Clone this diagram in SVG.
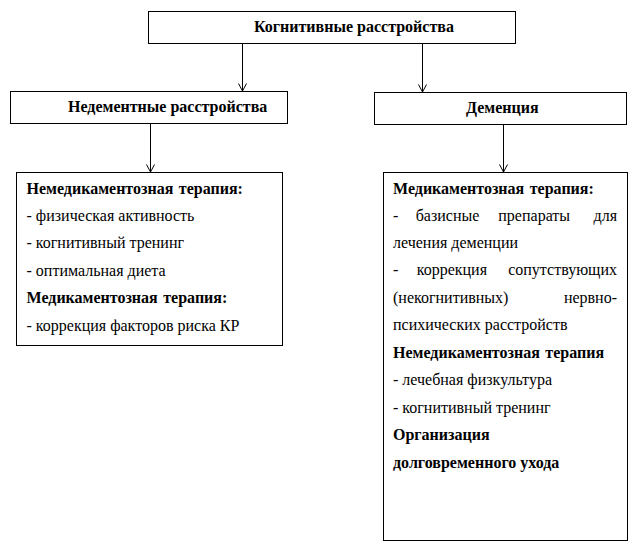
<svg xmlns="http://www.w3.org/2000/svg" width="634" height="547" viewBox="0 0 634 547">
<style>
.box{fill:#fff;stroke:#000;stroke-width:1}
text{font-family:'Liberation Serif','Times New Roman',serif;font-size:16px;fill:#000}
.b{font-weight:bold}
.c{stroke:#000;stroke-width:1;fill:none}
</style>
<rect width="634" height="547" fill="#fff"/>
<g id="connectors">
<line class="c" x1="242.5" y1="43.5" x2="242.5" y2="91.5"/>
<polyline class="c" points="238.5,83.5 242.5,91 246.5,83.5"/>
<line class="c" x1="422.5" y1="43.5" x2="422.5" y2="92.5"/>
<polyline class="c" points="418.5,84.5 422.5,92 426.5,84.5"/>
<line class="c" x1="150.5" y1="123.5" x2="150.5" y2="172.5"/>
<polyline class="c" points="146.5,164.5 150.5,172 154.5,164.5"/>
<line class="c" x1="503.5" y1="124.5" x2="503.5" y2="172.5"/>
<polyline class="c" points="499.5,164.5 503.5,172 507.5,164.5"/>
</g>
<g id="n-root">
<rect class="box" x="148.5" y="11.5" width="367" height="32"/>
<text class="b" x="254" y="32">Когнитивные расстройства</text>
</g>
<g id="n-nondementia">
<rect class="box" x="10.5" y="91.5" width="277" height="32"/>
<text class="b" x="68" y="112">Недементные расстройства</text>
</g>
<g id="n-dementia">
<rect class="box" x="374.5" y="92.5" width="252" height="32"/>
<text class="b" x="466" y="113">Деменция</text>
</g>
<g id="n-left-therapy">
<rect class="box" x="16.5" y="172.5" width="266" height="173"/>
<text class="b" x="26.5" y="193.5" word-spacing="1.5">Немедикаментозная терапия:</text>
<text x="26.5" y="221">- физическая активность</text>
<text x="26.5" y="248">- когнитивный тренинг</text>
<text x="26.5" y="275.5">- оптимальная диета</text>
<text class="b" x="26.5" y="303" word-spacing="1.5">Медикаментозная терапия:</text>
<text x="26.5" y="330.5">- коррекция факторов риска КР</text>
</g>
<g id="n-right-therapy">
<rect class="box" x="383.5" y="172.5" width="244" height="368"/>
<text class="b" x="393" y="193.5" word-spacing="1.5">Медикаментозная терапия:</text>
<text x="393" y="221">-</text>
<text x="415.7" y="221">базисные</text>
<text x="498.3" y="221">препараты</text>
<text x="617" y="221" text-anchor="end">для</text>
<text x="393" y="248">лечения деменции</text>
<text x="393" y="275">-</text>
<text x="416.7" y="275">коррекция</text>
<text x="617" y="275" text-anchor="end">сопутствующих</text>
<text x="393" y="302.5">(некогнитивных)</text>
<text x="617" y="302.5" text-anchor="end">нервно-</text>
<text x="393" y="330">психических расстройств</text>
<text class="b" x="393" y="357.5" word-spacing="1.5">Немедикаментозная терапия</text>
<text x="393" y="385">- лечебная физкультура</text>
<text x="393" y="412.5">- когнитивный тренинг</text>
<text class="b" x="393" y="440">Организация</text>
<text class="b" x="393" y="467.5">долговременного ухода</text>
</g>
</svg>
